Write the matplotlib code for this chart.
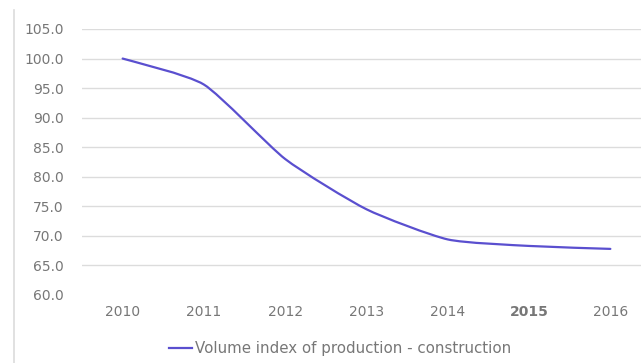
import matplotlib
matplotlib.use('Agg')
import matplotlib.pyplot as plt
from matplotlib.path import Path
from matplotlib.patches import PathPatch
from matplotlib.lines import Line2D

years = ['2010', '2011', '2012', '2013', '2014', '2015', '2016']
volume_index = [100.0, 95.6, 83.0, 74.5, 69.4, 68.3, 67.8]
series_label = 'Volume index of production - construction'
y_ticks = [60.0, 65.0, 70.0, 75.0, 80.0, 85.0, 90.0, 95.0, 100.0, 105.0]

LINE_COLOR = '#5a4fcf'
TEXT_COLOR = '#777777'
GRID_COLOR = '#dcdcdc'

plt.rcParams['font.family'] = ['DejaVu Sans']


def smooth_path(xs, ys, tension=0.1):
    # cubic Bezier through every point, gentle smoothing
    verts = [(xs[0], ys[0])]
    codes = [Path.MOVETO]
    n = len(xs)
    for i in range(n - 1):
        x0, y0 = xs[max(i - 1, 0)], ys[max(i - 1, 0)]
        x1, y1 = xs[i], ys[i]
        x2, y2 = xs[i + 1], ys[i + 1]
        x3, y3 = xs[min(i + 2, n - 1)], ys[min(i + 2, n - 1)]
        c1 = (x1 + (x2 - x0) * tension, y1 + (y2 - y0) * tension)
        c2 = (x2 - (x3 - x1) * tension, y2 - (y3 - y1) * tension)
        verts += [c1, c2, (x2, y2)]
        codes += [Path.CURVE4] * 3
    return Path(verts, codes)


fig = plt.figure(figsize=(6.41, 3.63), dpi=100)
ax = fig.add_axes([82 / 641, 1 - 295 / 363, 569 / 641, 266 / 363])

xs = list(range(len(years)))
ax.add_patch(PathPatch(smooth_path(xs, volume_index), facecolor='none',
                       edgecolor=LINE_COLOR, lw=1.6, capstyle='round'))

ax.set_xlim(-0.5, len(years) - 0.5)
ax.set_ylim(60, 105)
ax.set_yticks(y_ticks)
ax.set_yticklabels([f'{v:.1f}' for v in y_ticks])
ax.set_xticks(xs)
ax.set_xticklabels(years)
for lbl in ax.get_xticklabels():
    if lbl.get_text() == '2015':
        lbl.set_fontweight('bold')

ax.tick_params(axis='both', length=0, labelsize=10, colors=TEXT_COLOR)
ax.tick_params(axis='y', pad=13)
ax.tick_params(axis='x', pad=7)

ax.grid(axis='y', color=GRID_COLOR, lw=1)
ax.get_ygridlines()[0].set_visible(False)
ax.set_axisbelow(True)
for s in ax.spines.values():
    s.set_visible(False)

# chart frame edge on the left
fig.add_artist(Line2D([14 / 641, 14 / 641], [0, 1 - 10 / 363], color=GRID_COLOR, lw=1.2))

handle = Line2D([], [], color=LINE_COLOR, lw=1.6)
fig.legend([handle], [series_label], loc='center', bbox_to_anchor=(340 / 641, 1 - 349 / 363),
           frameon=False, fontsize=10.8, labelcolor=TEXT_COLOR, handlelength=1.5,
           handletextpad=0.2)

fig.savefig('out.png', dpi=100)
